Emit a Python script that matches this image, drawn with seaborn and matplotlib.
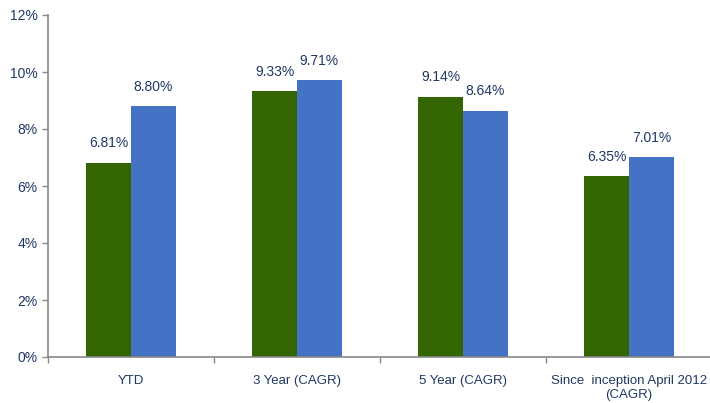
import pandas as pd
import matplotlib.pyplot as plt
import seaborn as sns
from matplotlib.ticker import FuncFormatter, FixedLocator

categories = ["YTD", "3 Year (CAGR)", "5 Year (CAGR)", "Since  inception April 2012\n(CAGR)"]
fund = [6.81, 9.33, 9.14, 6.35]
benchmark = [8.80, 9.71, 8.64, 7.01]

df = pd.DataFrame({
    "category": categories * 2,
    "series": ["Fund"] * 4 + ["Benchmark"] * 4,
    "value": fund + benchmark,
})

sns.set_style("white")
plt.rcParams['font.family'] = ['Liberation Sans', 'DejaVu Sans']
navy = "#1F3864"

fig = plt.figure(figsize=(7.1, 4.03), dpi=100)
ax = fig.add_axes([48 / 710, 1 - 357 / 403, 664 / 710, 342 / 403])

sns.barplot(data=df, x="category", y="value", hue="series",
            palette=["#336600", "#4472C4"], width=0.54, ax=ax,
            saturation=1, legend=False, linewidth=0)

# value labels
for cont in ax.containers:
    for bar in cont:
        h = bar.get_height()
        ax.annotate(f"{h:.2f}%", (bar.get_x() + bar.get_width() / 2, h),
                    xytext=(0, 9), textcoords="offset points",
                    ha="center", va="bottom", fontsize=10, color=navy)

ax.set_ylim(0, 12)
ax.set_yticks(range(0, 13, 2))
ax.yaxis.set_major_formatter(FuncFormatter(lambda v, p: f"{v:.0f}%"))
ax.set_xlim(-0.5, 3.5)
ax.set_xlabel("")
ax.set_ylabel("")

# tick marks at category boundaries, labels at centers
ax.xaxis.set_minor_locator(FixedLocator([-0.5, 0.5, 1.5, 2.5, 3.5]))
ax.tick_params(axis="x", which="major", length=0, pad=13, labelsize=9.5, labelcolor=navy)
ax.tick_params(axis="x", which="minor", length=4, color="#888888", width=1, bottom=True)
ax.tick_params(axis="y", length=4, color="#888888", width=1, left=True,
               labelsize=10, labelcolor=navy)
for lab in ax.get_xticklabels():
    lab.set_linespacing(1.25)

for s in ["top", "right"]:
    ax.spines[s].set_visible(False)
for s in ["left", "bottom"]:
    ax.spines[s].set_color("#888888")
    ax.spines[s].set_linewidth(1.2)

plt.savefig("out.png", dpi=100)
